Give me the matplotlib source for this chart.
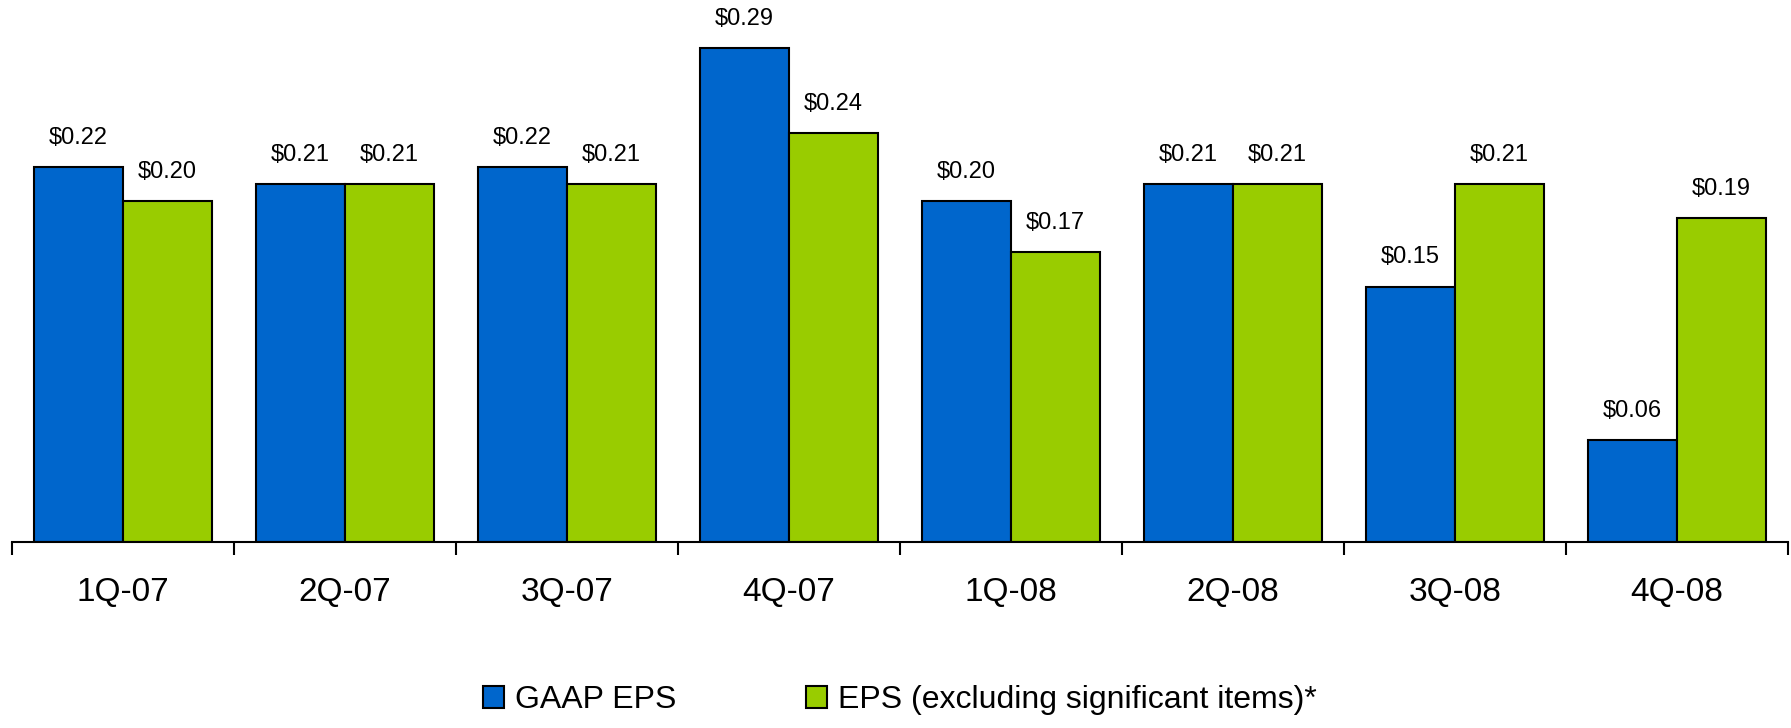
import matplotlib
matplotlib.use("Agg")
import matplotlib.pyplot as plt
from matplotlib.patches import Patch
import numpy as np

categories = ["1Q-07", "2Q-07", "3Q-07", "4Q-07", "1Q-08", "2Q-08", "3Q-08", "4Q-08"]
gaap_eps = [0.22, 0.21, 0.22, 0.29, 0.20, 0.21, 0.15, 0.06]
adj_eps = [0.20, 0.21, 0.21, 0.24, 0.17, 0.21, 0.21, 0.19]
series_names = ["GAAP EPS", "EPS (excluding significant items)*"]
colors = ["#0066CC", "#99CC00"]

plt.rcParams['font.family'] = ['Liberation Sans', 'DejaVu Sans']

W, H = 1791, 728
fig = plt.figure(figsize=(W / 100, H / 100), dpi=100)
ax = fig.add_axes([12 / W, (H - 542) / H, (1788 - 12) / W, 511 / H])

x = np.arange(len(categories))
bw = 0.4
b1 = ax.bar(x - bw / 2, gaap_eps, bw, color=colors[0], edgecolor="black", linewidth=1.5, zorder=2)
b2 = ax.bar(x + bw / 2, adj_eps, bw, color=colors[1], edgecolor="black", linewidth=1.5, zorder=2)

for bars, vals in ((b1, gaap_eps), (b2, adj_eps)):
    for r, v in zip(bars, vals):
        ax.annotate(f"${v:.2f}", (r.get_x() + r.get_width() / 2, v),
                    xytext=(0, 13), textcoords="offset points",
                    ha="center", va="bottom", fontsize=17)

ax.set_xlim(-0.5, len(categories) - 0.5)
ax.set_ylim(0, 0.30)
for s in ("left", "right", "top"):
    ax.spines[s].set_visible(False)
ax.spines["bottom"].set_linewidth(1.5)
ax.set_yticks([])
ax.set_xticks(x)
ax.set_xticklabels(categories, fontsize=24)
ax.tick_params(axis="x", which="major", length=0, pad=25)
ax.set_xticks(np.arange(-0.5, len(categories)), minor=True)
ax.tick_params(axis="x", which="minor", length=9, width=1.5, direction="out")

handles = [Patch(facecolor=c, edgecolor="black", linewidth=1.5) for c in colors]
fig.legend(handles, series_names, loc="center left",
           bbox_to_anchor=(483 / W, 1 - 700 / H), ncol=2, frameon=False,
           fontsize=23, handlelength=0.66, handleheight=0.66,
           handletextpad=0.34, columnspacing=4.07, borderpad=0, borderaxespad=0)

fig.savefig("out.png", dpi=100)
